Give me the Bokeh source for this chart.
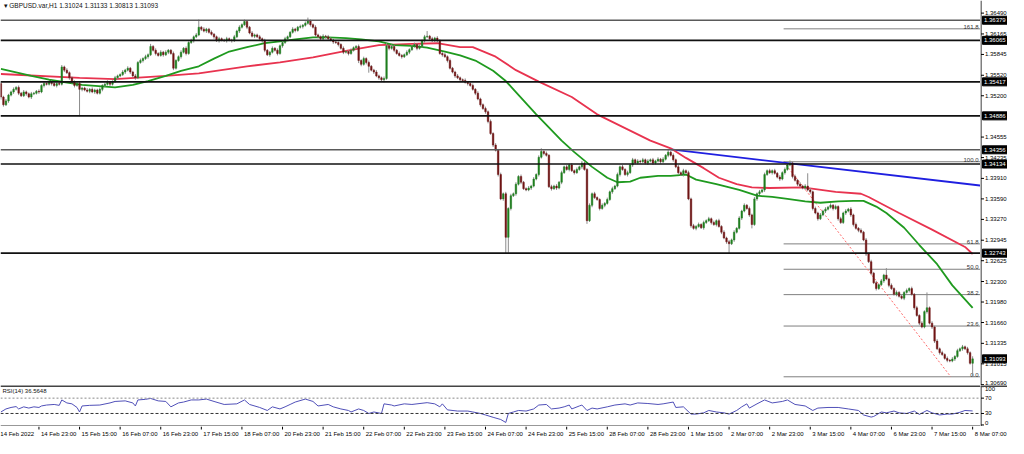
from bokeh.plotting import figure
from bokeh.models import Range1d, Label, Span, ColumnDataSource
from bokeh.layouts import column, row
from bokeh.embed import file_html
from bokeh.resources import INLINE
from bokeh.core.properties import value

FONT = "Liberation Sans"
TITLE = "\u25be GBPUSD.var,H1  1.31024 1.31133 1.30813 1.31093"
RSI_TITLE = "RSI(14) 36.5648"

# ---------------- data (H1 candles, bar index 0 = 14 Feb 08:00) ----------------
OPEN_FIRST = 1.3539
CLOSE = [
    1.3518, 1.3506, 1.3512, 1.3521, 1.3526, 1.3530, 1.3533, 1.3524, 1.3520, 1.3526, 1.3523, 1.3518, 1.3523, 1.3524, 1.3527, 1.3526,
    1.3536, 1.3539, 1.3538, 1.3541, 1.3539, 1.3536, 1.3539, 1.3538, 1.3565, 1.3560, 1.3556, 1.3548, 1.3541, 1.3536, 1.3539, 1.3530,
    1.3532, 1.3529, 1.3527, 1.3530, 1.3526, 1.3529, 1.3524, 1.3530, 1.3536, 1.3538, 1.3541, 1.3538, 1.3542, 1.3548, 1.3551, 1.3553,
    1.3557, 1.3560, 1.3563, 1.3557, 1.3551, 1.3548, 1.3572, 1.3575, 1.3578, 1.3581, 1.3584, 1.3597, 1.3591, 1.3586, 1.3583, 1.3588,
    1.3584, 1.3588, 1.3591, 1.3586, 1.3563, 1.3575, 1.3581, 1.3588, 1.3594, 1.3586, 1.3603, 1.3606, 1.3612, 1.3615, 1.3627, 1.3624,
    1.3621, 1.3624, 1.3619, 1.3616, 1.3612, 1.3606, 1.3609, 1.3607, 1.3606, 1.3609, 1.3607, 1.3606, 1.3612, 1.3621, 1.3627, 1.3631,
    1.3636, 1.3627, 1.3618, 1.3613, 1.3615, 1.3612, 1.3609, 1.3606, 1.3591, 1.3584, 1.3588, 1.3594, 1.3591, 1.3586, 1.3598, 1.3603,
    1.3609, 1.3612, 1.3619, 1.3624, 1.3622, 1.3627, 1.3628, 1.3630, 1.3633, 1.3637, 1.3631, 1.3627, 1.3615, 1.3612, 1.3609, 1.3613,
    1.3612, 1.3609, 1.3607, 1.3604, 1.3603, 1.3600, 1.3594, 1.3588, 1.3589, 1.3586, 1.3591, 1.3595, 1.3597, 1.3575, 1.3569, 1.3578,
    1.3572, 1.3566, 1.3560, 1.3557, 1.3551, 1.3548, 1.3545, 1.3547, 1.3598, 1.3594, 1.3597, 1.3591, 1.3586, 1.3583, 1.3581, 1.3584,
    1.3588, 1.3592, 1.3597, 1.3600, 1.3594, 1.3597, 1.3606, 1.3612, 1.3613, 1.3609, 1.3606, 1.3610, 1.3606, 1.3586, 1.3584, 1.3581,
    1.3575, 1.3563, 1.3557, 1.3551, 1.3548, 1.3545, 1.3544, 1.3541, 1.3539, 1.3536, 1.3530, 1.3524, 1.3515, 1.3506, 1.3500, 1.3495,
    1.3480, 1.3461, 1.3443, 1.3435, 1.3397, 1.3359, 1.3367, 1.3299, 1.3344, 1.3364, 1.3367, 1.3382, 1.3394, 1.3385, 1.3375, 1.3373,
    1.3376, 1.3379, 1.3390, 1.3397, 1.3424, 1.3433, 1.3430, 1.3427, 1.3378, 1.3375, 1.3379, 1.3376, 1.3385, 1.3400, 1.3409, 1.3405,
    1.3412, 1.3403, 1.3400, 1.3405, 1.3409, 1.3415, 1.3405, 1.3325, 1.3349, 1.3367, 1.3361, 1.3358, 1.3344, 1.3349, 1.3352, 1.3358,
    1.3370, 1.3375, 1.3379, 1.3397, 1.3409, 1.3405, 1.3397, 1.3400, 1.3412, 1.3420, 1.3415, 1.3418, 1.3417, 1.3420, 1.3415, 1.3418,
    1.3420, 1.3415, 1.3418, 1.3421, 1.3417, 1.3421, 1.3427, 1.3432, 1.3427, 1.3420, 1.3409, 1.3400, 1.3397, 1.3403, 1.3400, 1.3359,
    1.3317, 1.3313, 1.3316, 1.3319, 1.3314, 1.3322, 1.3325, 1.3328, 1.3322, 1.3319, 1.3325, 1.3316, 1.3307, 1.3298, 1.3292, 1.3289,
    1.3295, 1.3307, 1.3313, 1.3329, 1.3340, 1.3349, 1.3344, 1.3334, 1.3319, 1.3359, 1.3367, 1.3370, 1.3373, 1.3397, 1.3403, 1.3400,
    1.3403, 1.3399, 1.3393, 1.3390, 1.3400, 1.3405, 1.3412, 1.3415, 1.3394, 1.3388, 1.3382, 1.3379, 1.3376, 1.3379, 1.3373, 1.3370,
    1.3344, 1.3337, 1.3328, 1.3334, 1.3340, 1.3343, 1.3346, 1.3349, 1.3344, 1.3347, 1.3328, 1.3322, 1.3337, 1.3340, 1.3343, 1.3334,
    1.3319, 1.3313, 1.3310, 1.3307, 1.3295, 1.3273, 1.3261, 1.3243, 1.3228, 1.3219, 1.3225, 1.3231, 1.3240, 1.3234, 1.3224, 1.3219,
    1.3210, 1.3213, 1.3207, 1.3204, 1.3213, 1.3216, 1.3219, 1.3210, 1.3189, 1.3177, 1.3165, 1.3159, 1.3183, 1.3189, 1.3165, 1.3159,
    1.3137, 1.3125, 1.3119, 1.3116, 1.3110, 1.3107, 1.3106, 1.3109, 1.3113, 1.3122, 1.3125, 1.3128, 1.3125, 1.3119, 1.31024, 1.31093,
]
# upper / lower wick lengths in pips (0.0001)
UP_WICK_PIPS = [
    3, 2, 3, 2, 2, 3, 2, 3, 2, 3, 2, 2, 3, 2, 2, 3,
    2, 3, 2, 2, 3, 2, 2, 3, 3, 2, 3, 2, 2, 3, 2, 3,
    2, 2, 3, 2, 3, 2, 2, 3, 2, 2, 3, 2, 2, 3, 2, 2,
    3, 2, 3, 2, 2, 3, 2, 3, 2, 3, 2, 4, 2, 3, 2, 3,
    2, 3, 2, 2, 3, 2, 2, 3, 2, 3, 2, 3, 2, 3, 12, 2,
    3, 2, 2, 3, 2, 2, 3, 2, 2, 3, 2, 2, 3, 2, 3, 2,
    3, 2, 2, 3, 2, 2, 3, 2, 3, 2, 2, 3, 2, 3, 2, 2,
    3, 2, 2, 3, 2, 2, 3, 2, 3, 5, 2, 2, 3, 2, 2, 3,
    2, 3, 2, 2, 3, 2, 2, 3, 2, 2, 3, 2, 2, 3, 2, 3,
    2, 3, 2, 2, 3, 2, 2, 3, 4, 2, 3, 2, 2, 3, 2, 2,
    3, 2, 2, 3, 2, 3, 2, 3, 8, 2, 3, 2, 3, 2, 2, 3,
    2, 3, 2, 2, 3, 2, 2, 3, 2, 2, 3, 2, 3, 2, 2, 3,
    2, 3, 2, 3, 2, 3, 2, 3, 2, 3, 2, 3, 2, 3, 2, 2,
    3, 2, 3, 2, 3, 5, 2, 3, 2, 3, 2, 3, 2, 3, 2, 3,
    2, 3, 2, 3, 2, 3, 2, 2, 3, 2, 3, 2, 2, 3, 2, 3,
    2, 3, 2, 3, 2, 3, 2, 3, 2, 3, 2, 3, 2, 3, 2, 3,
    2, 3, 2, 3, 2, 3, 2, 5, 2, 3, 2, 3, 2, 3, 2, 3,
    2, 3, 2, 3, 2, 3, 2, 3, 2, 3, 2, 3, 2, 3, 2, 3,
    2, 3, 2, 3, 2, 3, 2, 3, 2, 3, 2, 3, 2, 3, 2, 3,
    2, 3, 2, 3, 2, 3, 2, 4, 2, 3, 2, 3, 2, 3, 20, 3,
    2, 3, 2, 3, 2, 3, 2, 3, 2, 3, 2, 3, 2, 3, 2, 3,
    2, 3, 2, 3, 2, 3, 2, 3, 2, 3, 2, 3, 2, 11, 2, 3,
    2, 3, 2, 3, 2, 3, 2, 3, 2, 3, 2, 3, 2, 24, 2, 3,
    2, 3, 2, 3, 2, 3, 2, 3, 2, 3, 2, 3, 2, 3, 2, 4,
]
DN_WICK_PIPS = [
    4, 3, 2, 3, 2, 3, 2, 3, 2, 2, 3, 2, 3, 2, 2, 3,
    2, 3, 2, 2, 3, 2, 3, 2, 2, 3, 2, 3, 2, 3, 2, 42,
    3, 2, 2, 3, 2, 3, 2, 2, 3, 2, 2, 3, 2, 2, 3, 2,
    2, 3, 2, 3, 2, 3, 2, 2, 3, 2, 3, 2, 2, 3, 2, 2,
    3, 2, 3, 2, 3, 2, 2, 3, 2, 3, 2, 2, 3, 2, 2, 3,
    2, 3, 2, 2, 3, 2, 3, 2, 2, 3, 2, 3, 2, 2, 3, 2,
    2, 3, 2, 2, 3, 2, 2, 3, 3, 2, 3, 2, 2, 3, 2, 3,
    2, 3, 2, 2, 3, 2, 2, 3, 2, 2, 3, 2, 3, 2, 3, 2,
    3, 2, 2, 3, 2, 3, 2, 3, 2, 3, 2, 2, 3, 4, 3, 2,
    3, 10, 2, 3, 2, 3, 2, 4, 2, 3, 2, 3, 2, 2, 3, 2,
    2, 3, 2, 2, 3, 2, 2, 3, 2, 3, 2, 2, 3, 2, 3, 2,
    3, 2, 2, 3, 2, 3, 2, 2, 3, 2, 2, 3, 2, 3, 2, 3,
    3, 2, 3, 2, 3, 2, 3, 26, 24, 3, 2, 3, 2, 3, 2, 2,
    2, 3, 2, 2, 3, 2, 3, 2, 2, 3, 2, 3, 2, 3, 2, 2,
    3, 2, 3, 2, 2, 3, 2, 5, 2, 3, 2, 2, 3, 2, 3, 2,
    2, 3, 2, 2, 3, 2, 2, 3, 2, 3, 2, 2, 3, 2, 2, 3,
    2, 3, 2, 2, 3, 2, 2, 3, 2, 3, 2, 3, 2, 3, 2, 2,
    3, 2, 3, 2, 2, 3, 2, 2, 3, 2, 3, 2, 3, 2, 3, 16,
    2, 3, 2, 2, 3, 2, 2, 3, 6, 2, 3, 2, 2, 3, 2, 2,
    3, 2, 2, 3, 2, 3, 2, 2, 3, 2, 3, 2, 2, 3, 2, 3,
    3, 2, 3, 2, 2, 3, 2, 2, 3, 2, 3, 2, 2, 3, 2, 3,
    3, 2, 3, 2, 2, 3, 2, 3, 2, 3, 2, 2, 3, 2, 3, 2,
    2, 3, 2, 2, 3, 2, 3, 2, 3, 2, 3, 2, 2, 3, 2, 3,
    3, 2, 3, 2, 2, 3, 2, 2, 3, 2, 2, 3, 2, 3, 2, 21,
]

# moving averages (bar index, price)
GREEN_MA_X = [0, 12, 19, 32, 45, 52, 58, 65, 71, 78, 84, 90, 97, 104, 110, 116, 123, 129, 136, 142,
              149, 155, 162, 168, 175, 181, 187, 194, 199, 202, 211, 221, 226, 233, 239, 243, 248, 252, 259, 264,
              270, 274, 282, 291, 298, 304, 310, 317, 323, 330, 336, 340, 345, 349, 356, 362, 369, 375, 383]
GREEN_MA_Y = [1.3562, 1.3551, 1.3545, 1.3537, 1.3533, 1.3537, 1.3543, 1.3551, 1.3559, 1.3566,
              1.3578, 1.3589, 1.3596, 1.3602, 1.3605, 1.3608, 1.3611, 1.3611, 1.3610, 1.3608,
              1.3605, 1.3599, 1.3598, 1.3595, 1.3589, 1.3583, 1.3575, 1.3559, 1.3543, 1.3530,
              1.3491, 1.3450, 1.3432, 1.3409, 1.3392, 1.3385, 1.3386, 1.3392, 1.3395, 1.3395,
              1.3397, 1.3389, 1.3382, 1.3373, 1.3364, 1.3362, 1.3359, 1.3355, 1.3353, 1.3355,
              1.3356, 1.3356, 1.3347, 1.3337, 1.3314, 1.3287, 1.3257, 1.3224, 1.3189]
RED_MA_X = [0, 31, 45, 65, 78, 97, 110, 123, 136, 149, 162, 172, 181, 186, 195, 203, 212, 225, 235, 256,
            264, 270, 277, 283, 290, 296, 303, 316, 329, 339, 342, 354, 367, 380, 383]
RED_MA_Y = [1.3554, 1.3548, 1.3546, 1.3551, 1.3555, 1.3566, 1.3572, 1.3580, 1.3590, 1.3599,
            1.3601, 1.3602, 1.3596, 1.3596, 1.3581, 1.3560, 1.3542, 1.3518, 1.3491, 1.3450,
            1.3438, 1.3423, 1.3407, 1.3392, 1.3382, 1.3377, 1.3376, 1.3377, 1.3370, 1.3367,
            1.3362, 1.3337, 1.3311, 1.3284, 1.3273]

# RSI(14) (bar index, value)
RSI_X = [0, 2, 4, 6, 7, 9, 11, 13, 15, 16, 18, 21, 23, 24, 26, 28, 30, 31, 32, 35,
         39, 43, 45, 49, 52, 53, 54, 57, 59, 62, 65, 67, 70, 72, 75, 78, 81, 84, 88, 93,
         96, 98, 102, 105, 107, 110, 112, 114, 116, 120, 123, 125, 129, 131, 134, 137, 138, 141, 143, 145,
         147, 150, 151, 154, 155, 159, 162, 164, 168, 171, 173, 174, 176, 180, 184, 186, 189, 191, 194, 197,
         199, 200, 202, 204, 207, 210, 212, 215, 217, 220, 222, 224, 225, 228, 229, 231, 233, 235, 239, 242,
         246, 248, 251, 255, 259, 261, 265, 266, 269, 272, 274, 277, 279, 282, 285, 287, 290, 292, 294, 295,
         298, 301, 304, 308, 310, 313, 317, 320, 322, 326, 330, 334, 338, 340, 343, 344, 347, 349, 352, 354,
         357, 360, 362, 365, 367, 370, 373, 375, 378, 380, 383]
RSI_V = [33.9, 41.8, 45.7, 48.0, 41.8, 47.3, 44.1, 47.3, 45.7, 49.6, 52.0, 53.5, 51.2, 65.3, 57.5, 55.1, 45.7, 33.9, 49.6, 51.2,
         52.0, 57.5, 61.4, 62.9, 57.5, 49.6, 65.3, 66.9, 69.2, 62.9, 61.4, 47.3, 57.5, 59.8, 65.3, 65.3, 67.6, 61.4, 53.5, 55.1,
         65.3, 53.5, 45.7, 37.8, 47.3, 41.8, 47.3, 53.5, 59.8, 67.6, 61.4, 49.6, 53.5, 47.3, 41.8, 37.8, 33.9, 41.8, 37.8, 30.0,
         33.9, 30.0, 55.1, 52.0, 49.6, 55.1, 53.5, 55.1, 58.2, 55.1, 47.3, 55.1, 39.4, 36.3, 36.3, 33.9, 30.0, 26.1, 20.0, 14.3,
         6.5, 30.0, 33.9, 37.8, 36.3, 41.8, 52.0, 53.5, 41.8, 44.1, 47.3, 52.0, 41.8, 49.6, 52.0, 37.8, 44.1, 41.8, 47.3, 52.0,
         55.1, 52.0, 57.5, 56.0, 53.5, 55.1, 59.8, 45.7, 47.3, 28.4, 28.4, 31.6, 37.8, 33.9, 31.6, 28.4, 37.8, 47.3, 55.1, 44.1,
         55.1, 65.3, 57.5, 61.4, 65.3, 53.5, 49.6, 37.8, 44.1, 45.7, 45.7, 41.8, 37.8, 26.1, 20.6, 22.2, 33.9, 31.6, 36.3, 31.6,
         30.0, 36.3, 27.6, 37.8, 31.6, 26.1, 28.4, 28.4, 33.1, 37.8, 36.6]
RSI_LEVELS = [70, 30]

# horizontal support/resistance levels (shown with black price boxes)
LEVELS = [1.36379, 1.36065, 1.35417, 1.34886, 1.34356, 1.34134, 1.32743]
LAST_PRICE = 1.31093

# Fibonacci retracement anchors
FIB_HIGH_BAR, FIB_HIGH = 308.5, 1.34170
FIB_LOW_BAR, FIB_LOW = 374.4, 1.30813
FIB_RATIOS = [1.618, 1.0, 0.618, 0.5, 0.382, 0.236, 0.0]
FIB_TEXT = ["161.8", "100.0", "61.8", "50.0", "38.2", "23.6", "0.0"]

# blue trend line (bar, price)
TREND_X = [264, 386.5]
TREND_Y = [1.34362, 1.33796]

# axis ticks
PRICE_TICKS = [1.36490, 1.36165, 1.35845, 1.35520, 1.35200, 1.34555, 1.34235, 1.33910, 1.33590,
               1.33270, 1.32945, 1.32625, 1.32300, 1.31980, 1.31660, 1.31335, 1.31015, 1.30690]
RSI_TICKS = [100, 70, 30, 0]
TIME_TICKS = [-1, 15, 31, 47, 63, 79, 95, 111, 127, 143, 159, 175, 191, 207, 223, 239, 255, 271,
              287, 303, 319, 335, 351, 367, 383]
TIME_LABELS = ["14 Feb 2022", "14 Feb 23:00", "15 Feb 15:00", "16 Feb 07:00", "16 Feb 23:00", "17 Feb 15:00",
               "18 Feb 07:00", "20 Feb 23:00", "21 Feb 15:00", "22 Feb 07:00", "22 Feb 23:00", "23 Feb 15:00",
               "24 Feb 07:00", "24 Feb 23:00", "25 Feb 15:00", "28 Feb 07:00", "28 Feb 23:00", "1 Mar 15:00",
               "2 Mar 07:00", "2 Mar 23:00", "3 Mar 15:00", "4 Mar 07:00", "6 Mar 23:00", "7 Mar 15:00", "8 Mar 07:00"]

# ---------------- layout ----------------
FRAME_W, AXIS_W = 980, 27
MAIN_H, RSI_H, TIME_H = 385, 41, 12
X_START, X_END = -0.155, 386.1
Y_START, Y_END = 1.30677, 1.36687
RSI_START, RSI_END = -4, 103

BULL, BEAR, WICK = "#1f7f1f", "#701515", "#8c8c8c"

assert len(CLOSE) == len(UP_WICK_PIPS) == len(DN_WICK_PIPS)
assert len(RSI_X) == len(RSI_V)

OPEN = [OPEN_FIRST] + CLOSE[:-1]
HIGH = [max(o, c) + u * 1e-4 for o, c, u in zip(OPEN, CLOSE, UP_WICK_PIPS)]
LOW = [min(o, c) - d * 1e-4 for o, c, d in zip(OPEN, CLOSE, DN_WICK_PIPS)]
src = ColumnDataSource(dict(
    x=list(range(len(CLOSE))),
    top=[max(o, c) for o, c in zip(OPEN, CLOSE)],
    bottom=[min(o, c) for o, c in zip(OPEN, CLOSE)],
    high=HIGH, low=LOW,
    color=[BULL if c >= o else BEAR for o, c in zip(OPEN, CLOSE)],
))


def base_fig(**kw):
    f = figure(output_backend="svg", toolbar_location=None, min_border=0,
               x_axis_location=None, y_axis_location=None, **kw)
    f.grid.visible = False
    f.background_fill_color = "white"
    f.border_fill_color = "white"
    f.outline_line_color = None
    return f


def axis_text(f, xs, ys, texts, baseline, color="#000000"):
    f.text(x=xs, y=ys, text=texts, text_font=value(FONT), text_font_size="6px",
           text_color=color, text_align="left", text_baseline=baseline)


# ---------------- main price panel ----------------
y_range = Range1d(Y_START, Y_END)
main = base_fig(frame_width=FRAME_W, frame_height=MAIN_H,
                x_range=Range1d(X_START, X_END), y_range=y_range)

for lvl in LEVELS:
    col = "#5a5a5a" if lvl in (1.36379, 1.34356) else "#111111"
    main.add_layout(Span(location=lvl, dimension="width", line_color=col, line_width=1.6))

fib_levels = [FIB_LOW + r * (FIB_HIGH - FIB_LOW) for r in FIB_RATIOS]
main.segment(x0=[FIB_HIGH_BAR] * len(fib_levels), y0=fib_levels,
             x1=[X_END + 5] * len(fib_levels), y1=fib_levels, line_color="#7f7f7f", line_width=1)
main.text(x=[X_END] * len(fib_levels), y=fib_levels, text=FIB_TEXT, x_offset=-2, y_offset=0,
          text_font=value(FONT), text_font_size="6px", text_color="#333333",
          text_align="right", text_baseline="bottom")
main.line([FIB_HIGH_BAR, FIB_LOW_BAR], [FIB_HIGH, FIB_LOW], line_color="#ff6b6b",
          line_dash="2 2", line_width=1)

main.line(TREND_X, TREND_Y, line_color="#1f1fe0", line_width=1.8)
main.line(RED_MA_X, RED_MA_Y, line_color="#e8334f", line_width=1.8)
main.line(GREEN_MA_X, GREEN_MA_Y, line_color="#1f9a1f", line_width=1.8)

main.segment(x0="x", y0="low", x1="x", y1="high", source=src, line_color=WICK, line_width=1)
main.vbar(x="x", width=0.6, top="top", bottom="bottom", source=src,
          fill_color="color", line_color="color", line_width=0.5)

main.add_layout(Label(x=X_START, y=Y_END, x_offset=3, y_offset=-1, text=TITLE,
                      text_font=FONT, text_font_size="6.5px", text_color="#111111",
                      text_baseline="top", text_align="left"))

# ---------------- price axis strip (x in pixels) ----------------
pax = base_fig(frame_width=AXIS_W, frame_height=MAIN_H,
               x_range=Range1d(0, AXIS_W), y_range=y_range)
pax.segment(x0=0.5, y0=Y_START, x1=0.5, y1=Y_END, line_color="#000000", line_width=1)
pax.segment(x0=[0.5] * len(PRICE_TICKS), y0=PRICE_TICKS, x1=[3.5] * len(PRICE_TICKS), y1=PRICE_TICKS,
            line_color="#000000", line_width=1)
axis_text(pax, [4.5] * (len(PRICE_TICKS) - 1), PRICE_TICKS[:-1],
          [f"{t:.5f}" for t in PRICE_TICKS[:-1]], "middle")
axis_text(pax, [4.5], PRICE_TICKS[-1:], [f"{t:.5f}" for t in PRICE_TICKS[-1:]], "bottom")
box_levels = LEVELS + [LAST_PRICE]
pax.rect(x=[14.5] * len(box_levels), y=box_levels, width=25, height=8, height_units="screen",
         fill_color="#000000", line_color="#000000")
axis_text(pax, [3.5] * len(box_levels), box_levels, [f"{v:.5f}" for v in box_levels],
          "middle", color="#ffffff")

# ---------------- RSI panel ----------------
rsi_range = Range1d(RSI_START, RSI_END)
rsi = base_fig(frame_width=FRAME_W, frame_height=RSI_H, x_range=main.x_range, y_range=rsi_range)
rsi.add_layout(Span(location=RSI_END, dimension="width", line_color="#444444", line_width=3))
rsi.add_layout(Span(location=RSI_START, dimension="width", line_color="#333333", line_width=2))
rsi.add_layout(Span(location=RSI_LEVELS[0], dimension="width", line_color="#8a8a8a",
                    line_dash="2 2", line_width=1))
rsi.add_layout(Span(location=RSI_LEVELS[1], dimension="width", line_color="#333333",
                    line_dash="3 2", line_width=1))
rsi.line(RSI_X, RSI_V, line_color="#5050b8", line_width=1)
rsi.add_layout(Label(x=X_START, y=RSI_END, x_offset=2, y_offset=-2, text=RSI_TITLE,
                     text_font=FONT, text_font_size="6px", text_color="#111111",
                     text_baseline="top", text_align="left"))

rax = base_fig(frame_width=AXIS_W, frame_height=RSI_H, x_range=Range1d(0, AXIS_W), y_range=rsi_range)
rax.segment(x0=0.5, y0=RSI_START, x1=0.5, y1=RSI_END, line_color="#000000", line_width=1)
rax.add_layout(Span(location=RSI_END, dimension="width", line_color="#444444", line_width=3))
rax.segment(x0=[0.5] * len(RSI_TICKS), y0=RSI_TICKS, x1=[3.5] * len(RSI_TICKS), y1=RSI_TICKS,
            line_color="#000000", line_width=1)
axis_text(rax, [4.5], RSI_TICKS[:1], [str(RSI_TICKS[0])], "top")
axis_text(rax, [4.5, 4.5], RSI_TICKS[1:3], [str(t) for t in RSI_TICKS[1:3]], "middle")
axis_text(rax, [4.5], RSI_TICKS[3:], [str(RSI_TICKS[3])], "bottom")

# ---------------- time axis ----------------
TW = FRAME_W + AXIS_W
tf = base_fig(frame_width=TW, frame_height=TIME_H,
              x_range=Range1d(X_START, X_START + TW * (X_END - X_START) / FRAME_W),
              y_range=Range1d(0, TIME_H))
tf.segment(x0=TIME_TICKS, y0=TIME_H, x1=TIME_TICKS, y1=TIME_H - 3, line_color="#000000", line_width=1)
tf.text(x=TIME_TICKS, y=TIME_H / 2 - 1, text=TIME_LABELS, x_offset=2,
        text_font=value(FONT), text_font_size="6px", text_color="#000000",
        text_align="left", text_baseline="middle")

layout = column(row(main, pax, spacing=0), row(rsi, rax, spacing=0), tf, spacing=0)
open("out.html", "w").write(file_html(layout, INLINE))
